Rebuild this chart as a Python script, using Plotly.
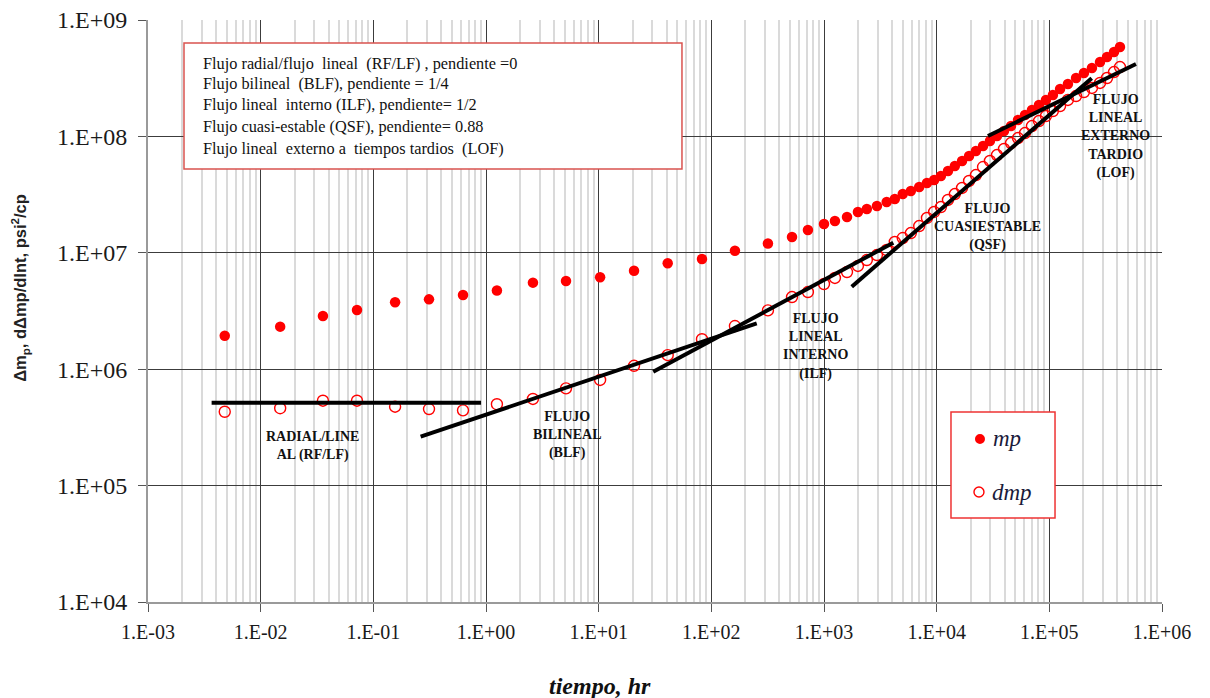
import plotly.graph_objects as go
import math

# ---- data -------------------------------------------------------------
tiempo_hr = [
    0.0048, 0.0149, 0.0357, 0.0716, 0.156, 0.312, 0.625, 1.25, 2.61, 5.13,
    10.3, 20.6, 41.0, 82.6, 162, 318,
    520, 720, 1000, 1250, 1600, 2000, 2400, 2950, 3600, 4250,
    5000, 5900, 7000, 8200, 9500, 10900, 12600, 14500, 16800, 19400,
    22300, 25800, 29700, 34300, 39600, 45700, 52700, 60800, 70100, 80900,
    93300, 107600, 124500, 146200, 172600, 202800, 238800, 281800, 325100,
    375000, 423600,
]

mp = [
    1.94e6, 2.32e6, 2.86e6, 3.23e6, 3.76e6, 3.98e6, 4.34e6, 4.74e6, 5.54e6, 5.72e6,
    6.16e6, 7.02e6, 8.13e6, 8.85e6, 1.04e7, 1.20e7,
    1.368e7, 1.570e7, 1.767e7, 1.876e7, 2.031e7, 2.242e7, 2.377e7, 2.523e7, 2.730e7, 2.897e7,
    3.199e7, 3.396e7, 3.673e7, 3.981e7, 4.217e7, 4.571e7, 5.047e7, 5.572e7, 6.152e7, 6.792e7,
    7.499e7, 8.279e7, 9.120e7, 1.007e8, 1.112e8, 1.227e8, 1.384e8, 1.528e8, 1.687e8, 1.862e8,
    2.056e8, 2.270e8, 2.553e8, 2.818e8, 3.175e8, 3.508e8, 3.873e8, 4.355e8, 4.808e8,
    5.309e8, 5.861e8,
]

dmp = [
    4.31e5, 4.62e5, 5.36e5, 5.36e5, 4.76e5, 4.55e5, 4.43e5, 5.00e5, 5.55e5, 6.85e5,
    8.08e5, 1.07e6, 1.32e6, 1.81e6, 2.35e6, 3.20e6,
    4.169e6, 4.603e6, 5.395e6, 6.081e6, 6.839e6, 7.706e6, 8.670e6, 9.572e6, 1.057e7, 1.239e7,
    1.340e7, 1.479e7, 1.698e7, 1.991e7, 2.242e7, 2.472e7, 2.844e7, 3.199e7, 3.606e7, 4.140e7,
    4.656e7, 5.458e7, 6.152e7, 6.918e7, 7.798e7, 8.770e7, 9.683e7, 1.069e8, 1.227e8, 1.355e8,
    1.496e8, 1.652e8, 1.824e8, 2.056e8, 2.223e8, 2.404e8, 2.606e8, 2.877e8, 3.175e8,
    3.573e8, 3.945e8,
]

# straight-line flow regime fits (start, end)
fit_rf_t, fit_rf_v = [0.00367, 0.904], [5.15e5, 5.15e5]
fit_blf_t, fit_blf_v = [0.263, 252.9], [2.63e5, 2.478e6]
fit_ilf_t, fit_ilf_v = [30.5, 4121], [9.52e5, 1.221e7]
fit_qsf_t, fit_qsf_v = [1762, 237700], [5.117e6, 3.157e8]
fit_lof_t, fit_lof_v = [28510, 587500], [1.008e8, 4.188e8]

x_tickvals = [1e-3, 1e-2, 1e-1, 1e0, 1e1, 1e2, 1e3, 1e4, 1e5, 1e6]
x_ticktext = ["1.E-03", "1.E-02", "1.E-01", "1.E+00", "1.E+01",
              "1.E+02", "1.E+03", "1.E+04", "1.E+05", "1.E+06"]
y_tickvals = [1e4, 1e5, 1e6, 1e7, 1e8, 1e9]
y_ticktext = ["1.E+04", "1.E+05", "1.E+06", "1.E+07", "1.E+08", "1.E+09"]

regime_labels = [
    ("RADIAL/LINE<br>AL (RF/LF)", 0.0286, 2.17e5),
    ("FLUJO<br>BILINEAL<br>(BLF)", 5.24, 2.72e5),
    ("FLUJO<br>LINEAL<br>INTERNO<br>(ILF)", 832, 1.58e6),
    ("FLUJO<br>CUASIESTABLE<br>(QSF)", 28510, 1.667e7),
    ("FLUJO<br>LINEAL<br>EXTERNO<br>TARDIO<br>(LOF)", 382800, 9.98e7),
]

note_lines = [
    "Flujo radial/flujo  lineal  (RF/LF) , pendiente =0",
    "Flujo bilineal  (BLF), pendiente = 1/4",
    "Flujo lineal  interno (ILF), pendiente= 1/2",
    "Flujo cuasi-estable (QSF), pendiente= 0.88",
    "Flujo lineal  externo a  tiempos tardios  (LOF)",
]

# ---- figure -----------------------------------------------------------
SERIF = "Liberation Serif, Times New Roman, serif"
RED = "#ff0000"

fig = go.Figure()

fig.add_trace(go.Scatter(
    x=tiempo_hr, y=dmp, mode="markers", name="dmp", showlegend=False,
    marker=dict(symbol="circle-open", size=11, color=RED, line=dict(width=1.4, color=RED)),
))
fig.add_trace(go.Scatter(
    x=tiempo_hr, y=mp, mode="markers", name="mp", showlegend=False,
    marker=dict(symbol="circle", size=10.5, color=RED, line=dict(width=0)),
))

for ft, fv in [(fit_rf_t, fit_rf_v), (fit_blf_t, fit_blf_v), (fit_ilf_t, fit_ilf_v),
               (fit_qsf_t, fit_qsf_v), (fit_lof_t, fit_lof_v)]:
    fig.add_trace(go.Scatter(x=ft, y=fv, mode="lines", showlegend=False,
                             line=dict(color="black", width=4)))

# minor grid positions (2..9 within each decade)
x_minor = [m * 10.0 ** d for d in range(-3, 6) for m in range(2, 10)]
y_minor = [m * 10.0 ** d for d in range(4, 9) for m in range(2, 10)]

axis_common = dict(
    type="log", tickmode="array", showgrid=True, gridcolor="#3c3c3c", gridwidth=1.3,
    showline=True, linecolor="#9a9a9a", linewidth=2, zeroline=False, automargin=False,
    ticks="outside", ticklen=8, tickcolor="#555555", tickwidth=1.3,
)

fig.update_xaxes(
    **axis_common, range=[-3, 6], tickvals=x_tickvals, ticktext=x_ticktext,
    tickfont=dict(family=SERIF, size=20, color="#1a1a1a"), ticklabelstandoff=3,
    minor=dict(tickmode="array", tickvals=x_minor, showgrid=True,
               gridcolor="#dadada", gridwidth=1.6, ticks=""),
)
fig.update_yaxes(
    **axis_common, range=[4, 9], tickvals=y_tickvals, ticktext=y_ticktext,
    tickfont=dict(family=SERIF, size=24, color="#1a1a1a"), ticklabelstandoff=6,
    minor=dict(tickmode="array", tickvals=y_minor, showgrid=False, ticks=""),
)

annotations = []
for text, tx, vy in regime_labels:
    annotations.append(dict(
        x=math.log10(tx), y=math.log10(vy), xref="x", yref="y", text="<b>" + text + "</b>",
        showarrow=False, align="center", xanchor="center", yanchor="middle",
        font=dict(family=SERIF, size=14, color="#111111"),
    ))

note_y = [0.9256, 0.8912, 0.8540, 0.8167, 0.7796]
for line, yy in zip(note_lines, note_y):
    annotations.append(dict(
        x=0.0523, y=yy, xref="paper", yref="paper", text=line, showarrow=False,
        xanchor="left", yanchor="middle", font=dict(family=SERIF, size=16.3, color="#111111"),
    ))

# legend entries
annotations.append(dict(x=0.8314, y=0.2801, xref="paper", yref="paper", text="<i>mp</i>",
                        showarrow=False, xanchor="left", yanchor="middle",
                        font=dict(family=SERIF, size=23, color="#1a1a3a")))
annotations.append(dict(x=0.8304, y=0.189, xref="paper", yref="paper", text="<i>dmp</i>",
                        showarrow=False, xanchor="left", yanchor="middle",
                        font=dict(family=SERIF, size=23, color="#1a1a3a")))

# axis titles
annotations.append(dict(x=0.4458, y=-0.1443, xref="paper", yref="paper",
                        text="<b><i>tiempo, hr</i></b>", showarrow=False,
                        xanchor="center", yanchor="middle",
                        font=dict(family=SERIF, size=24, color="#111111")))
annotations.append(dict(x=-0.1262, y=0.54, xref="paper", yref="paper",
                        text="<b>Δm<sub>p</sub>, dΔmp/dlnt, psi<sup>2</sup>/cp</b>",
                        showarrow=False, textangle=-90, xanchor="center", yanchor="middle",
                        font=dict(family="Liberation Sans, Arial, sans-serif", size=16.5,
                                  color="#222222")))

shapes = [
    # regime description box
    dict(type="rect", xref="paper", yref="paper", x0=0.0355, x1=0.5266, y0=0.744, y1=0.9605,
         line=dict(color="#d9534f", width=1.5), fillcolor="white", layer="above"),
    # legend box
    dict(type="rect", xref="paper", yref="paper", x0=0.7919, x1=0.8945, y0=0.1443, y1=0.3265,
         line=dict(color="#ee3333", width=1.5), fillcolor="white", layer="above"),
    # legend symbols
    dict(type="circle", xref="paper", yref="paper", xsizemode="pixel", ysizemode="pixel",
         xanchor=0.8205, yanchor=0.2801, x0=-5, x1=5, y0=-5, y1=5,
         fillcolor=RED, line=dict(color=RED, width=0), layer="above"),
    dict(type="circle", xref="paper", yref="paper", xsizemode="pixel", ysizemode="pixel",
         xanchor=0.8195, yanchor=0.189, x0=-5, x1=5, y0=-5, y1=5,
         fillcolor="white", line=dict(color=RED, width=1.4), layer="above"),
]

fig.update_layout(
    width=1210, height=698,
    margin=dict(l=148, r=48, t=20, b=96),
    paper_bgcolor="white", plot_bgcolor="white",
    showlegend=False,
    annotations=annotations, shapes=shapes,
)

fig.write_html("out.html")
